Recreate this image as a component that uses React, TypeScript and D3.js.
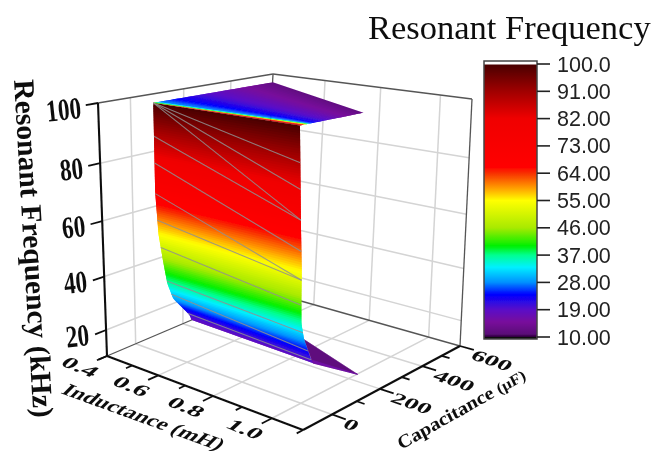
import React from "react";
import * as d3 from "d3";

const freqTicks = [20, 40, 60, 80, 100];
const inductanceTicks = [0.4, 0.5, 0.6, 0.7, 0.8, 0.9, 1.0, 1.1];
const inductanceMajor = [0.4, 0.6, 0.8, 1.0];
const capacitanceTicks = [0, 100, 200, 300, 400, 500, 600];
const capacitanceMajor = [0, 200, 400, 600];
const legendTicks = [100, 91, 82, 73, 64, 55, 46, 37, 28, 19, 10];

const railF = [100, 70, 55, 45, 36, 29, 20, 18];
const leftRailL = [0.509, 0.509, 0.509, 0.511, 0.509, 0.501, 0.501, 0.501];
const leftRailC = [-18, -18, -9, 4, 21, 51, 119, 125];
const rightRailL = [1.021, 1.021, 1.015, 1.0, 0.985, 0.97, 0.96, 0.954];
const rightRailC = [-18, -18, -10, 5, 22, 50, 90, 105];

const flapValue = [100, 80, 66, 55, 46, 37, 28, 24, 20, 16, 12];
const flapLeftC = [-18, -18, -18, -18, -18, -12, 0, 60, 160, 300, 464];
const flapRightC = [-18, -12, -6, 0, 5, 10, 16, 30, 70, 130, 222];

const tipL = 1.043;
const tipC = 180;
const tipF = 14;

const meshLeftF = [100, 100, 100, 89, 80, 69.5, 60, 50, 37, 31, 21];
const meshRightF = [89, 81, 71.6, 71.6, 61.6, 52, 52, 43, 32, 24, 20];

const colorValues = [10, 11, 15, 19, 24, 28, 33, 37, 40, 46, 55, 59, 64, 66, 82, 91, 100];
const colorStops = ["#2a0038", "#5a0a78", "#780a9c", "#5a10c8", "#0000ff", "#0090ff", "#00f0ff", "#00ff90", "#00f000", "#a8ea00", "#ffff00", "#ffa000", "#f83000", "#ff0000", "#f00000", "#a00000", "#480000"];
const color = d3.scaleLinear<string>().domain(colorValues).range(colorStops).clamp(true);

// screen corners of the plot box, [u, v, t] = lo/hi along inductance, capacitance, frequency
const C000 = [107, 356], C100 = [303, 430], C110 = [460, 346], C010 = [262, 290];
const C001 = [98, 103], C101 = [298, 135], C111 = [472, 99], C011 = [273, 74];

const nx = d3.scaleLinear().domain([0.4, 1.1]).range([0, 1]);
const ny = d3.scaleLinear().domain([-110, 600]).range([0, 1]);
const nz = d3.scaleLinear().domain([10, 100]).range([0, 1]);
const warp = (n: number, a: number) => (n * (1 + a)) / (1 + a * n);
const U = (l: number) => warp(nx(l), -0.115);
const V = (c: number) => warp(ny(c), 0.238);
const T = (f: number) => warp(nz(f), -0.085);

function tri(u: number, v: number, t: number): [number, number] {
  const out: [number, number] = [0, 0];
  for (const i of [0, 1]) {
    const b = (1 - u) * (1 - v) * C000[i] + u * (1 - v) * C100[i] + u * v * C110[i] + (1 - u) * v * C010[i];
    const h = (1 - u) * (1 - v) * C001[i] + u * (1 - v) * C101[i] + u * v * C111[i] + (1 - u) * v * C011[i];
    out[i] = (1 - t) * b + t * h;
  }
  return out;
}
const P = (l: number, c: number, f: number) => tri(U(l), V(c), T(f));
const line = d3.line();
const seg = (a: [number, number], b: [number, number]) => line([a, b]) as string;
const poly = (pts: [number, number][]) => (line(pts) as string) + "Z";

const leftL = d3.scaleLinear().domain(railF).range(leftRailL);
const leftC = d3.scaleLinear().domain(railF).range(leftRailC);
const rightL = d3.scaleLinear().domain(railF).range(rightRailL);
const rightC = d3.scaleLinear().domain(railF).range(rightRailC);
const LP = (f: number) => P(leftL(f), leftC(f), f);
const RP = (f: number) => P(rightL(f), rightC(f), f);

const wallLevels = d3.range(100, 18, -0.75).concat([18]);
const flapIdx = d3.range(flapValue.length);
const fV = d3.scaleLinear().domain(flapIdx).range(flapValue);
const fL = d3.scaleLinear().domain(flapIdx).range(flapLeftC);
const fR = d3.scaleLinear().domain(flapIdx).range(flapRightC);
const flapSteps = d3.range(0, flapValue.length - 1 + 0.001, 0.1);

const legendY = d3.scaleLinear().domain([10, 100]).range([337, 64]);
const SERIF = "'Liberation Serif', serif";

export default function App() {
  const grid: string[] = [];
  const fMin = 10, fMax = 100, lMin = 0.4, lMax = 1.1, cMin = -110, cMax = 600;
  for (const f of freqTicks) {
    if (f === 100) continue;
    grid.push(seg(P(lMin, cMin, f), P(lMin, cMax, f)), seg(P(lMin, cMax, f), P(lMax, cMax, f)));
  }
  for (const l of inductanceMajor.slice(1)) {
    grid.push(seg(P(l, cMin, fMin), P(l, cMax, fMin)), seg(P(l, cMax, fMin), P(l, cMax, fMax)));
  }
  for (const c of capacitanceMajor.slice(0, 3)) {
    grid.push(seg(P(lMin, c, fMin), P(lMax, c, fMin)), seg(P(lMin, c, fMin), P(lMin, c, fMax)));
  }
  const thin = [
    seg(P(lMin, cMin, fMax), P(lMin, cMax, fMax)),
    seg(P(lMin, cMax, fMax), P(lMax, cMax, fMax)),
    seg(P(lMax, cMax, fMax), P(lMax, cMax, fMin)),
    seg(P(lMin, cMin, fMin), P(lMin, cMax, fMin)),
    seg(P(lMin, cMax, fMin), P(lMax, cMax, fMin)),
    seg(P(lMin, cMax, fMin), P(lMin, cMax, fMax)),
  ];
  const axes = [
    seg(P(lMin, cMin, fMax), P(lMin, cMin, fMin)),
    seg(P(lMin, cMin, fMin), P(lMax, cMin, fMin)),
    seg(P(lMax, cMin, fMin), P(lMax, cMax, fMin)),
  ];
  const ticks: string[] = [];
  for (const f of freqTicks) ticks.push(seg(P(lMin, cMin, f), tri(0, -0.07, T(f))));
  ticks.push(seg(P(lMin, cMin, fMin), tri(0, -0.055, 0)));
  for (const l of inductanceTicks) {
    const maj = inductanceMajor.includes(l);
    ticks.push(seg(P(l, cMin, fMin), tri(U(l), maj ? -0.065 : -0.04, 0)));
  }
  for (const c of capacitanceTicks) {
    const maj = capacitanceMajor.includes(c);
    ticks.push(seg(P(lMax, c, fMin), tri(maj ? 1.07 : 1.04, V(c), 0)));
  }

  const zLabel = (f: number) => {
    const p = P(lMin, cMin, f);
    return (
      <text key={f} transform={`translate(${p[0] - 16},${p[1] + 15}) rotate(-6) scale(0.75,1)`} textAnchor="end"
        fontFamily={SERIF} fontWeight={700} fontSize={31} fill="#111">{f}</text>
    );
  };
  const xLabel = (l: number) => {
    const p = P(l, cMin, fMin);
    return (
      <text key={l} transform={`translate(${p[0] - 28},${p[1] + 12}) rotate(22) skewX(-25) scale(1,0.62) translate(0,7)`} textAnchor="middle"
        fontFamily={SERIF} fontWeight={700} fontSize={28} fill="#111">{l.toFixed(1)}</text>
    );
  };
  const yLabel = (c: number) => {
    const p = P(lMax, c, fMin);
    return (
      <text key={c} transform={`translate(${p[0] + 12},${p[1] + 9}) rotate(19) skewX(-20) scale(1,0.6) translate(0,7)`}
        fontFamily={SERIF} fontWeight={700} fontSize={27} fill="#111">{c}</text>
    );
  };

  return (
    <svg width={652} height={455} style={{ position: "absolute", left: 0, top: 0, display: "block", background: "#fff" }}>
      <defs>
        <filter id="soft" x="-5%" y="-5%" width="110%" height="110%">
          <feGaussianBlur stdDeviation={0.7} />
        </filter>
        <linearGradient id="bar" gradientUnits="userSpaceOnUse" x1={0} x2={0} y1={legendY(10)} y2={legendY(100)}>
          {colorValues.map((v, i) => (
            <stop key={v} offset={(v - 10) / 90} stopColor={colorStops[i]} />
          ))}
        </linearGradient>
      </defs>
      <g filter="url(#soft)">
        <g fill="none" stroke="#d4d4d4" strokeWidth={1.5}>
          {grid.map((d, i) => <path key={i} d={d} />)}
        </g>
        <g fill="none" stroke="#555" strokeWidth={1.3}>
          {thin.map((d, i) => <path key={i} d={d} />)}
        </g>

        {/* lower flap */}
        <path d={poly([RP(29), RP(18), P(tipL, tipC, tipF)])} fill={color(11.5)} stroke={color(11.5)} strokeWidth={0.6} />
        <path d={poly([RP(18), RP(20), P(tipL, tipC, tipF)])} fill={color(16)} stroke={color(16)} strokeWidth={0.6} />

        {/* wall, painted top to bottom with each band running under the next */}
        {wallLevels.slice(0, -1).map((f, i) => {
          const g = wallLevels[Math.min(i + 2, wallLevels.length - 1)];
          const c = color((f + wallLevels[i + 1]) / 2);
          return <path key={f} d={poly([LP(f), RP(f), RP(g), LP(g)])} fill={c} />;
        })}
        <g fill="none" stroke="#8f8f8f" strokeWidth={1.1} strokeOpacity={0.85}>
          {meshLeftF.map((f, i) => <path key={i} d={seg(LP(f), RP(meshRightF[i]))} />)}
        </g>

        {/* upper flap, back to front */}
        {flapSteps.slice(0, -1).map((_, k) => {
          const i = flapSteps.length - 2 - k;
          const s = flapSteps[Math.max(i - 1, 0)];
          const e = flapSteps[i + 1];
          const c = color(fV((flapSteps[i] + e) / 2));
          return (
            <path key={i} d={poly([
              P(leftRailL[0], fL(s), 100), P(rightRailL[0], fR(s), 100),
              P(rightRailL[0], fR(e), 100), P(leftRailL[0], fL(e), 100),
            ])} fill={c} />
          );
        })}

        <g fill="none" stroke="#111" strokeWidth={2.1}>
          {axes.map((d, i) => <path key={i} d={d} />)}
          {ticks.map((d, i) => <path key={i} d={d} strokeWidth={1.8} />)}
        </g>
        {freqTicks.map(zLabel)}
        {inductanceMajor.map(xLabel)}
        {capacitanceMajor.map(yLabel)}

        <text transform="translate(14,80) rotate(86.7)" fontFamily={SERIF} fontWeight={700} fontSize={29.5} fill="#111">Resonant Frequency (kHz)</text>
        <text transform="translate(60,393) rotate(20) skewX(-25) scale(1,0.8)" fontFamily={SERIF} fontWeight={700} fontSize={23} fill="#111">Inductance (mH)</text>
        <text transform="translate(401,450) rotate(-29.5) skewX(-3) scale(1,0.9)" fontFamily={SERIF} fontWeight={700} fontSize={20.5} fill="#111">
          Capacitance <tspan fontSize={17}>(μF)</tspan>
        </text>

        <text x={368} y={39} fontFamily={SERIF} fontSize={34.5} fill="#111">Resonant Frequency</text>

        {/* colour bar */}
        <rect x={484} y={legendY(100)} width={53} height={legendY(10) - legendY(100)} fill="url(#bar)" />
        <rect x={484} y={62} width={53} height={2.5} fill="#fff" />
        <rect x={484} y={337} width={53} height={2} fill="#111" />
        <rect x={484} y={61} width={53} height={278} fill="none" stroke="#444" strokeWidth={1.5} />
        {legendTicks.map((v) => (
          <g key={v}>
            <path d={seg([537, legendY(v)], [550, legendY(v)])} stroke="#222" strokeWidth={1.6} />
            <text x={557} y={legendY(v) + 7.5} fontFamily="'Liberation Sans', sans-serif" fontSize={21.5} fill="#222">
              {v === 100 ? "100.0" : v.toFixed(2)}
            </text>
          </g>
        ))}
      </g>
    </svg>
  );
}
